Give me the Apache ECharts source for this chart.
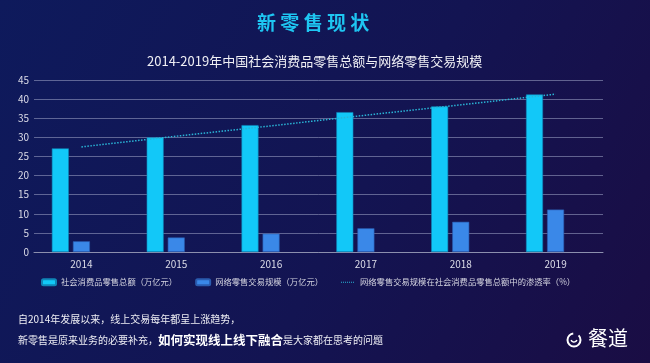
<!DOCTYPE html>
<html>
<head>
<meta charset="utf-8">
<script src="https://cdn.jsdelivr.net/npm/echarts@6/dist/echarts.min.js"></script>
<style>
html,body{margin:0;padding:0;background:#12144e;}
#c{width:650px;height:363px;}
</style>
</head>
<body>
<div id="c"></div>
<script>
var years = ['2014', '2015', '2016', '2017', '2018', '2019'];
var retailTotal = [27.1, 30.0, 33.2, 36.6, 38.1, 41.2];
var onlineRetail = [2.8, 3.8, 4.8, 6.2, 7.9, 11.1];
var penetration = [27.5, 30.3, 33.0, 35.8, 38.5, 41.3];
var yTicks = { min: 0, max: 45, interval: 5 };
var seriesNames = ['社会消费品零售总额（万亿元）', '网络零售交易规模（万亿元）', '网络零售交易规模在社会消费品零售总额中的渗透率（%）'];

var font = '"Noto Sans CJK SC", "Noto Sans", sans-serif';
var dotIcon = 'path://M0,0M14,6M0,2.5h1v1h-1zM2,2.5h1v1h-1zM4,2.5h1v1h-1zM6,2.5h1v1h-1zM8,2.5h1v1h-1zM10,2.5h1v1h-1zM12,2.5h1v1h-1z';
var chart = echarts.init(document.getElementById('c'), null, { renderer: 'canvas' });
chart.setOption({
  backgroundColor: new echarts.graphic.LinearGradient(0, 0, 1, 1, [
    { offset: 0, color: '#0e1a5c' },
    { offset: 0.55, color: '#131452' },
    { offset: 1, color: '#1a0d44' }
  ]),
  textStyle: { fontFamily: font },
  title: [{
    text: '新 零 售 现 状',
    left: 252,
    top: 8,
    textStyle: { color: '#1ec6f2', fontSize: 19, fontWeight: 'bold', fontFamily: font }
  }, {
    text: '2014-2019年中国社会消费品零售总额与网络零售交易规模',
    left: 142,
    top: 50,
    textStyle: { color: '#f0f0f5', fontSize: 13, fontWeight: 'normal', fontFamily: font }
  }],
  grid: { left: 34, right: 47, top: 80, bottom: 111, containLabel: false },
  legend: {
    data: [
      { name: seriesNames[0] },
      { name: seriesNames[1] },
      { name: seriesNames[2], icon: dotIcon, itemStyle: { color: '#2ab4d6' } }
    ],
    left: 36,
    top: 273,
    width: 620,
    itemWidth: 14,
    itemHeight: 6,
    itemGap: 18,
    textStyle: { color: '#d4d4e0', fontSize: 8.3, fontFamily: font }
  },
  xAxis: {
    type: 'category',
    data: years,
    axisLine: { lineStyle: { color: '#8c8fae', width: 1 } },
    axisTick: { show: false },
    axisLabel: { color: '#dcdce8', fontSize: 10, margin: 7 }
  },
  yAxis: {
    type: 'value',
    min: yTicks.min,
    max: yTicks.max,
    interval: yTicks.interval,
    axisLine: { show: false },
    axisTick: { show: false },
    axisLabel: { color: '#dcdce8', fontSize: 10, margin: 5 },
    splitLine: { lineStyle: { color: 'rgba(160,165,200,0.55)', width: 1 } }
  },
  series: [{
    name: seriesNames[0],
    type: 'bar',
    data: retailTotal,
    barWidth: 17,
    barGap: '24%',
    itemStyle: { color: '#12c8f8', borderColor: '#0f86b8', borderWidth: 0.6 }
  }, {
    name: seriesNames[1],
    type: 'bar',
    data: onlineRetail,
    barWidth: 17,
    barGap: '24%',
    itemStyle: { color: '#3a88e8', borderColor: '#2a5cb0', borderWidth: 0.6 }
  }, {
    name: '_placeholder',
    type: 'bar',
    data: [],
    barWidth: 17,
    barGap: '24%',
    silent: true
  }, {
    name: seriesNames[2],
    type: 'line',
    data: penetration,
    showSymbol: false,
    symbol: 'none',
    lineStyle: { color: '#2ab4d6', width: 1.5, type: [1.5, 1.5] },
    itemStyle: { color: '#2ab4d6' },
    z: 5
  }],
  graphic: [{
    type: 'text',
    left: 18,
    top: 314,
    style: { text: '自2014年发展以来，线上交易每年都呈上涨趋势，', fill: '#eeeef4', fontSize: 10, fontFamily: font }
  }, {
    type: 'text',
    left: 18,
    top: 334,
    style: {
      text: '{n|新零售是原来业务的必要补充，}{b|如何实现线上线下融合}{n|是大家都在思考的问题}',
      fontFamily: font,
      rich: {
        n: { fill: '#eeeef4', fontSize: 10, fontFamily: font },
        b: { fill: '#ffffff', fontSize: 12.5, fontWeight: 'bold', fontFamily: font }
      }
    }
  }, {
    type: 'arc',
    shape: { cx: 574, cy: 340, r: 6.5, startAngle: -Math.PI * 0.25, endAngle: Math.PI * 1.75 - 0.9, clockwise: true },
    style: { stroke: '#ffffff', lineWidth: 2, fill: null }
  }, {
    type: 'arc',
    shape: { cx: 574, cy: 339, r: 3, startAngle: Math.PI * 0.1, endAngle: Math.PI * 0.9, clockwise: true },
    style: { stroke: '#ffffff', lineWidth: 1.5, fill: null }
  }, {
    type: 'text',
    left: 588,
    top: 328,
    style: { text: '餐道', fill: '#ffffff', fontSize: 20, fontFamily: font }
  }]
});
</script>
</body>
</html>
